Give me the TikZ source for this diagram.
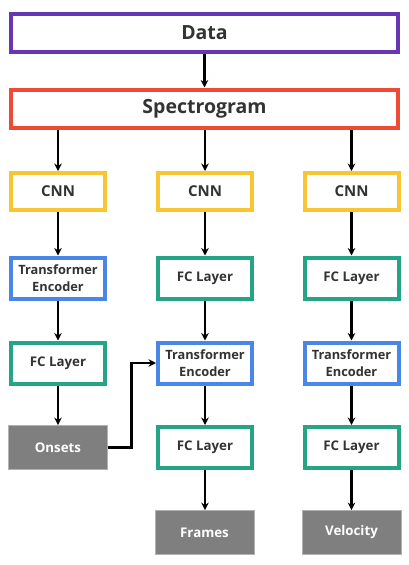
\documentclass[tikz,border=0pt]{standalone}
\usepackage{fontspec}
\setmainfont{Open Sans}
\usetikzlibrary{arrows.meta}
\definecolor{datapurple}{HTML}{6A35B5}
\definecolor{specred}{HTML}{EE4A36}
\definecolor{cnnyellow}{HTML}{F8C630}
\definecolor{encblue}{HTML}{4A86E8}
\definecolor{fcgreen}{HTML}{26A586}
\definecolor{outgray}{HTML}{7F7F7F}
\definecolor{textdark}{HTML}{333333}

\begin{document}
\begin{tikzpicture}[x=1pt, y=-1pt,
        box/.style={draw, line width=4pt, fill=white, text=textdark,
            font=\bfseries, align=center, inner sep=0pt,
            minimum width=94pt, minimum height=41pt},
        widebox/.style={box, minimum width=387pt, minimum height=38pt,
            font=\fontsize{19.5}{22}\selectfont\bfseries},
        cnnbox/.style={box, draw=cnnyellow, minimum height=37pt,
            font=\fontsize{15}{18}\selectfont\bfseries},
        encbox/.style={box, draw=encblue,
            font=\fontsize{12.8}{16.5}\selectfont\bfseries},
        fcbox/.style={box, draw=fcgreen,
            font=\fontsize{13.3}{16}\selectfont\bfseries},
        outbox/.style={fill=outgray, draw=outgray!60, line width=.8pt,
            text=white, inner sep=0pt, minimum width=99pt,
            minimum height=44pt, font=\fontsize{13.3}{16}\selectfont\bfseries},
        arr/.style={line width=2.2pt, -{Stealth[length=7.5pt, width=7.5pt]}}]
        \useasboundingbox (0, 0) rectangle (408, 565);
        \node [widebox, draw=datapurple] (data) at (204.5, 33) {Data};
        \node [widebox, draw=specred] (spec) at (204.5, 108.5) {Spectrogram};
        \foreach \c/\x in {a/58, b/205, c/351.5} {
            \node [cnnbox] (cnn\c) at (\x, 191.5) {CNN};
        }
        \node [encbox] (enca) at (58, 278) {Transformer\\Encoder};
        \node [fcbox] (fca) at (58, 363) {FC Layer};
        \node [outbox] (onsets) at (58, 447.5) {Onsets};
        \node [fcbox] (fcb) at (205, 278) {FC Layer};
        \node [encbox] (encb) at (205, 363) {Transformer\\Encoder};
        \node [fcbox] (fcbb) at (205, 447.5) {FC Layer};
        \node [outbox] (frames) at (204.5, 532.5) {Frames};
        \node [fcbox] (fcc) at (351.5, 278) {FC Layer};
        \node [encbox] (encc) at (351.5, 363) {Transformer\\Encoder};
        \node [fcbox] (fccc) at (351.5, 447.5) {FC Layer};
        \node [outbox] (velocity) at (351.5, 532.5) {Velocity};
        \coordinate (bend) at (131.5, 447.5);
        \draw [arr] (data) -- (spec);
        \foreach \c in {a, b, c} {
            \draw [arr] (spec.south -| cnn\c) -- (cnn\c);
        }
        \draw [arr] (cnna) -- (enca);
        \draw [arr] (enca) -- (fca);
        \draw [arr] (fca) -- (onsets);
        \draw [arr] (cnnb) -- (fcb);
        \draw [arr] (fcb) -- (encb);
        \draw [arr] (encb) -- (fcbb);
        \draw [arr] (fcbb) -- (frames.north -| fcbb);
        \draw [arr] (cnnc) -- (fcc);
        \draw [arr] (fcc) -- (encc);
        \draw [arr] (encc) -- (fccc);
        \draw [arr] (fccc) -- (velocity);
        \draw [arr] (onsets.east) -- (bend) |- (encb.west);
    \end{tikzpicture}
\end{document}
